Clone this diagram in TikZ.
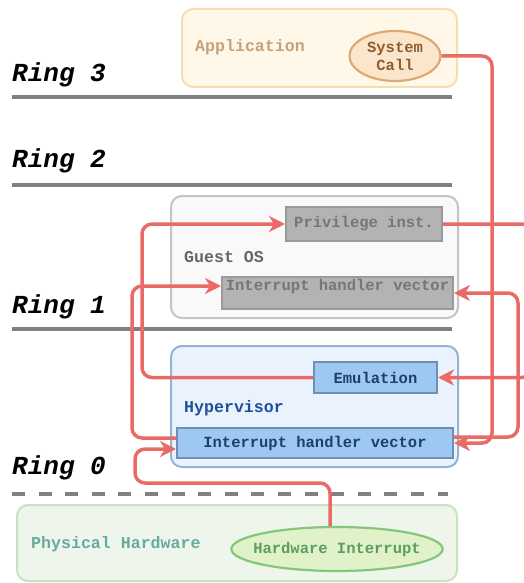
\documentclass[tikz,border=0pt]{standalone}
\usepackage{fontspec}
\setmainfont{Liberation Mono}
\usetikzlibrary{arrows.meta,shapes.geometric}

\definecolor{appfill}{HTML}{FFF8E9}
\definecolor{appline}{HTML}{F3DFAE}
\definecolor{apptext}{HTML}{C6A27C}
\definecolor{callfill}{HTML}{FCE6CB}
\definecolor{callline}{HTML}{DCAA72}
\definecolor{calltext}{HTML}{8C5E30}
\definecolor{osfill}{HTML}{F9F9F9}
\definecolor{osline}{HTML}{C4C4C4}
\definecolor{osbox}{HTML}{B3B3B3}
\definecolor{osboxline}{HTML}{9A9A9A}
\definecolor{ostext}{HTML}{767676}
\definecolor{oslabel}{HTML}{666666}
\definecolor{hvfill}{HTML}{EAF3FD}
\definecolor{hvline}{HTML}{94B4D6}
\definecolor{hvbox}{HTML}{9DC8F2}
\definecolor{hvboxline}{HTML}{6F8FB4}
\definecolor{hvtext}{HTML}{1E3F6E}
\definecolor{hvlabel}{HTML}{1F4E9C}
\definecolor{hwfill}{HTML}{EEF6EC}
\definecolor{hwline}{HTML}{C8E2C2}
\definecolor{hwtext}{HTML}{67AB9F}
\definecolor{intfill}{HTML}{E1F1C9}
\definecolor{intline}{HTML}{84C77B}
\definecolor{inttext}{HTML}{5C9E5C}
\definecolor{flow}{HTML}{EA6B66}
\definecolor{ringline}{HTML}{808080}

\tikzset{
  txt/.style={font=\fontsize{15.5}{17}\selectfont\bfseries},
  ringlabel/.style={font=\fontsize{26}{30}\selectfont\bfseries\itshape, anchor=base west, inner sep=0pt},
  layer/.style={draw, line width=2pt, rounded corners=11pt, inner sep=0pt},
  block/.style={draw, line width=2pt, inner sep=2pt, txt},
  oval/.style={ellipse, draw, line width=2.2pt, inner sep=0pt, txt, align=center},
  layertitle/.style={font=\fontsize{16.6}{18}\selectfont\bfseries, anchor=west, inner sep=0pt},
  ringsep/.style={line width=4pt, draw=ringline},
  flowline/.style={draw=flow, line width=3.5pt, rounded corners=10pt,
    -{Stealth[length=16pt,width=16pt,inset=5pt]}},
}

\begin{document}
\begin{tikzpicture}[x=1pt,y=-1pt]
\clip (0,0) rectangle (524,583);
\fill[white] (0,0) rectangle (524,583);

% ring separators
\draw[ringsep] (12,97) -- (452,97);
\draw[ringsep] (12,185) -- (452,185);
\draw[ringsep] (12,329) -- (452,329);
\draw[ringsep, dash pattern=on 13pt off 13.6pt] (12,494) -- (448,494);

% ring labels
\node[ringlabel] (r3) at (12,82) {Ring 3};
\node[ringlabel] (r2) at (12,167) {Ring 2};
\node[ringlabel] (r1) at (12,313) {Ring 1};
\node[ringlabel] (r0) at (12,474) {Ring 0};

% user space
\node[layer, fill=appfill, draw=appline, minimum width=275pt, minimum height=78pt] (app) at (319.5,48) {};
\node[layertitle, text=apptext] (apptitle) at (195,47) {Application};
\node[oval, fill=callfill, draw=callline, text=calltext, inner xsep=-6pt, minimum width=91pt, minimum height=50pt] (syscall) at (395,56) {System\\[1pt]Call};

% guest kernel
\node[layer, fill=osfill, draw=osline, minimum width=287pt, minimum height=122pt] (guest) at (314.5,257) {};
\node[layertitle, text=oslabel] (guesttitle) at (184,257) {Guest OS};
\node[block, fill=osbox, draw=osboxline, text=ostext, minimum width=156pt, minimum height=34pt] (priv) at (364,224) {Privilege inst.};
\node[block, fill=osbox, draw=osboxline, text=ostext, minimum width=231pt, text height=11pt, text depth=17pt] (gihv) at (337.5,293) {Interrupt handler vector};

% hypervisor
\node[layer, fill=hvfill, draw=hvline, minimum width=287pt, minimum height=121pt] (hyp) at (314.5,406.5) {};
\node[layertitle, text=hvlabel] (hyptitle) at (184,408) {Hypervisor};
\node[block, fill=hvbox, draw=hvboxline, text=hvtext, minimum width=123pt, minimum height=31pt] (emu) at (375.5,377.5) {Emulation};
\node[block, fill=hvbox, draw=hvboxline, text=hvtext, minimum width=276pt, minimum height=30pt] (hihv) at (315,443) {Interrupt handler vector};

% hardware
\node[layer, fill=hwfill, draw=hwline, minimum width=440pt, minimum height=76pt] (hw) at (237,543) {};
\node[layertitle, text=hwtext] (hwtitle) at (31,544) {Physical Hardware};
\node[oval, fill=intfill, draw=intline, text=inttext, inner xsep=-9pt, minimum width=211pt, minimum height=44pt] (hwint) at (337,549) {Hardware Interrupt};

% routing points
\coordinate (bR) at (492,443);
\coordinate (aR) at (518,293);
\coordinate (cR) at (532,224);
\coordinate (dL) at (142,224);
\coordinate (eL) at (132,286);
\coordinate (fL) at (135,483);

% control flow
\draw[flowline] (syscall.east) -| (bR) -- (hihv.east);
\draw[flowline] ([yshift=6pt]hihv.east) -| (aR) -- (gihv.east);
\draw[flowline] (priv.east) -- (cR) |- (emu.east);
\draw[flowline] (emu.west) -| (dL) -- (priv.west);
\draw[flowline] ([yshift=5pt]hihv.west) -| (eL) -- ([yshift=7pt]gihv.west);
\draw[flowline] ([xshift=-7pt]hwint.north) |- (fL) |- ([yshift=-6pt]hihv.west);
\end{tikzpicture}
\end{document}
